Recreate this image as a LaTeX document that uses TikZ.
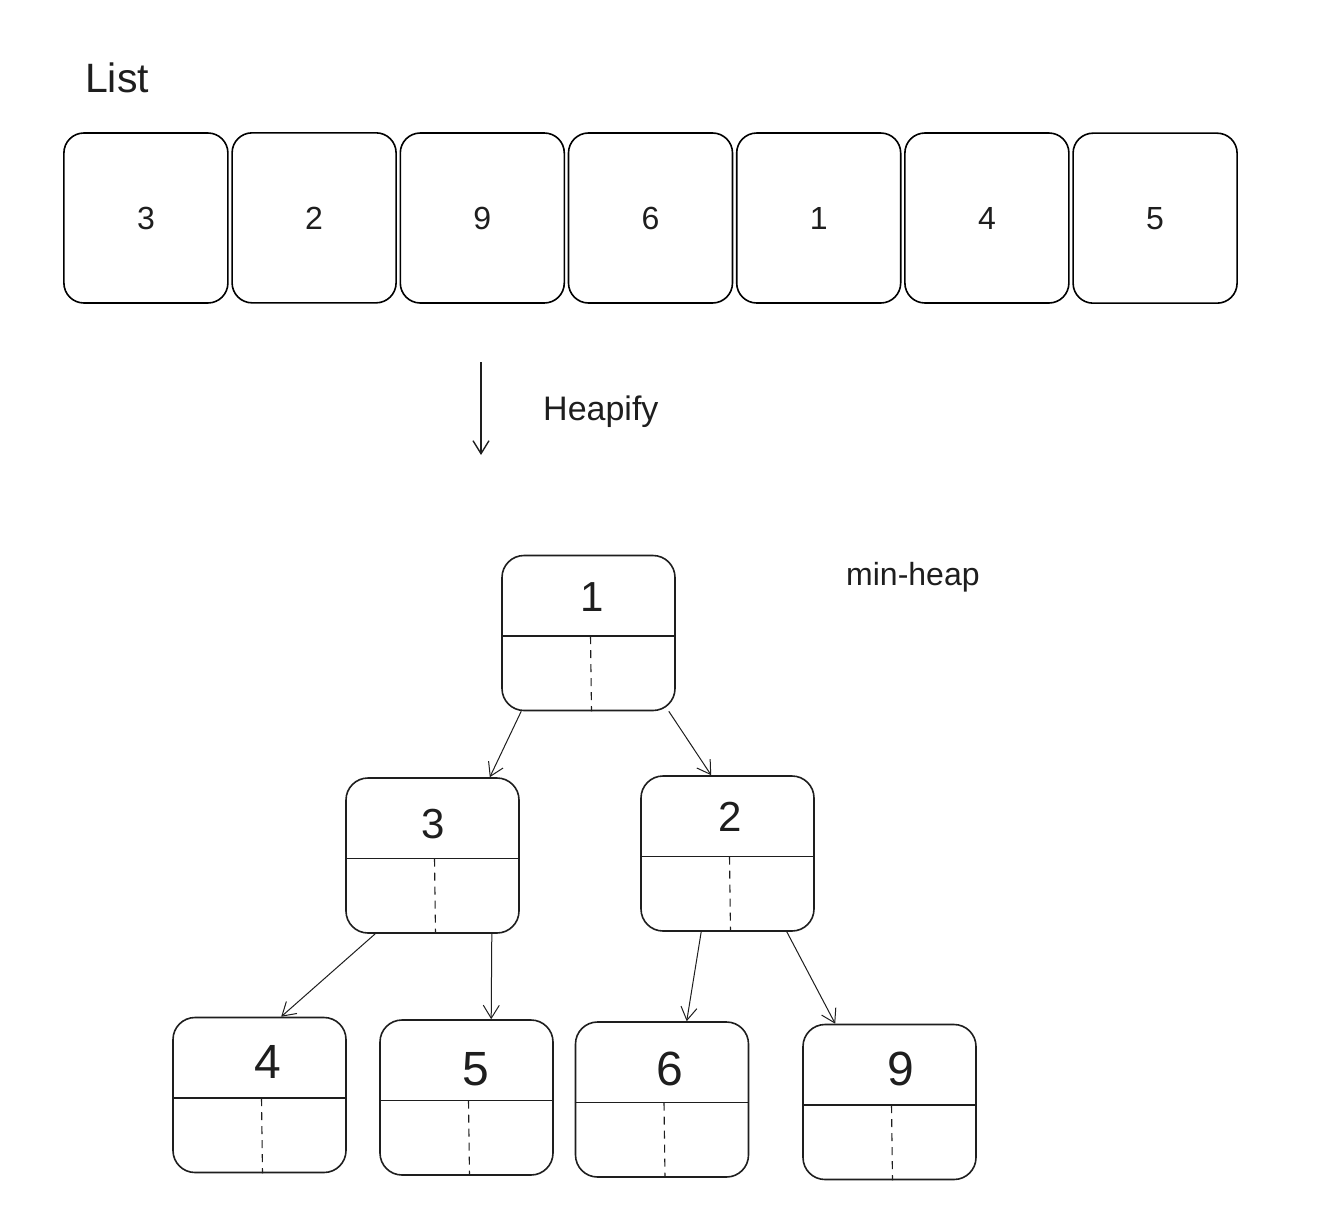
\documentclass[tikz,border=0pt]{standalone}
\usepackage{fontspec}
\setmainfont{Liberation Sans}
\usetikzlibrary{matrix, arrows.meta}
\definecolor{ink}{HTML}{1E1E1E}

\tikzset{
  listbox/.style={draw, rounded corners=20pt, line width=1.6pt, minimum width=164pt,
    minimum height=170pt, inner sep=0pt, font=\fontsize{32}{38}\selectfont},
  heapbox/.style={draw, rounded corners=22pt, line width=1.6pt, minimum width=173pt,
    minimum height=155pt, inner sep=0pt},
  digit/.style={inner sep=0pt, font=\fontsize{42}{50}\selectfont},
  leafdigit/.style={inner sep=0pt, font=\fontsize{48}{56}\selectfont},
  note/.style={inner sep=0pt, anchor=west, font=\fontsize{32}{38}\selectfont},
  link/.style={-{Straight Barb[length=13pt,width=16pt]}, line width=1pt}
}

\begin{document}
\begin{tikzpicture}[x=1pt, y=-1pt, ink]
\fill[white] (0,0) rectangle (1322,1224);
\useasboundingbox (0,0) rectangle (1322,1224);

% the list
\node[note, font=\fontsize{41}{48}\selectfont] (list) at (85,78) {List};
\matrix (m) at (650.5,218) [matrix of nodes, column sep=2.6pt, nodes={listbox}]{
3 & 2 & 9 & 6 & 1 & 4 & 5 \\
};

% heapify step
\coordinate (hs) at (481,362);
\coordinate (he) at (481,455);
\draw[link, line width=1.4pt] (hs) -- (he);
\node[note, font=\fontsize{34}{40}\selectfont] (heapify) at (543,412) {Heapify};

% the heap
\node[note] (minheap) at (846,577) {min-heap};
\node[heapbox] (h1) at (588.5,633) {};
\node[heapbox] (h3) at (432.5,855.5) {};
\node[heapbox] (h2) at (727.5,853.5) {};
\node[heapbox] (h4) at (259.5,1095) {};
\node[heapbox] (h5) at (466.5,1097.5) {};
\node[heapbox] (h6) at (662,1099.5) {};
\node[heapbox] (h9) at (889.5,1102) {};
\foreach \n in {h1,h3,h2,h4,h5,h6,h9} {
  \draw[line width=1.3pt] ([yshift=-3pt]\n.west) -- ([yshift=-3pt]\n.east);
  \draw[dash pattern=on 8pt off 6pt, line width=1.1pt] ([xshift=2pt, yshift=-3pt]\n.center) -- ([xshift=3pt]\n.south);
}
\node[digit] (v1) at ([xshift=4pt, yshift=-42pt]h1.north) {1};
\node[digit] (v3) at ([xshift=1pt, yshift=-47pt]h3.north) {3};
\node[digit] (v2) at ([xshift=3pt, yshift=-42pt]h2.north) {2};
\node[leafdigit] (v4) at ([xshift=8pt, yshift=-45pt]h4.north) {4};
\node[leafdigit] (v5) at ([xshift=9pt, yshift=-50pt]h5.north) {5};
\node[leafdigit] (v6) at ([xshift=8pt, yshift=-48pt]h6.north) {6};
\node[leafdigit] (v9) at ([xshift=11pt, yshift=-45pt]h9.north) {9};

\draw[link] ([xshift=20pt]h1.south west) -- ([xshift=-30pt]h3.north east);
\draw[link] ([xshift=-7pt]h1.south east) -- ([xshift=71pt]h2.north west);
\draw[link] ([xshift=30pt]h3.south west) -- ([xshift=109pt]h4.north west);
\draw[link] ([xshift=-28pt]h3.south east) -- ([xshift=112pt]h5.north west);
\draw[link] ([xshift=61pt]h2.south west) -- ([xshift=112pt]h6.north west);
\draw[link] ([xshift=-28pt]h2.south east) -- ([xshift=33pt]h9.north west);
\end{tikzpicture}
\end{document}
